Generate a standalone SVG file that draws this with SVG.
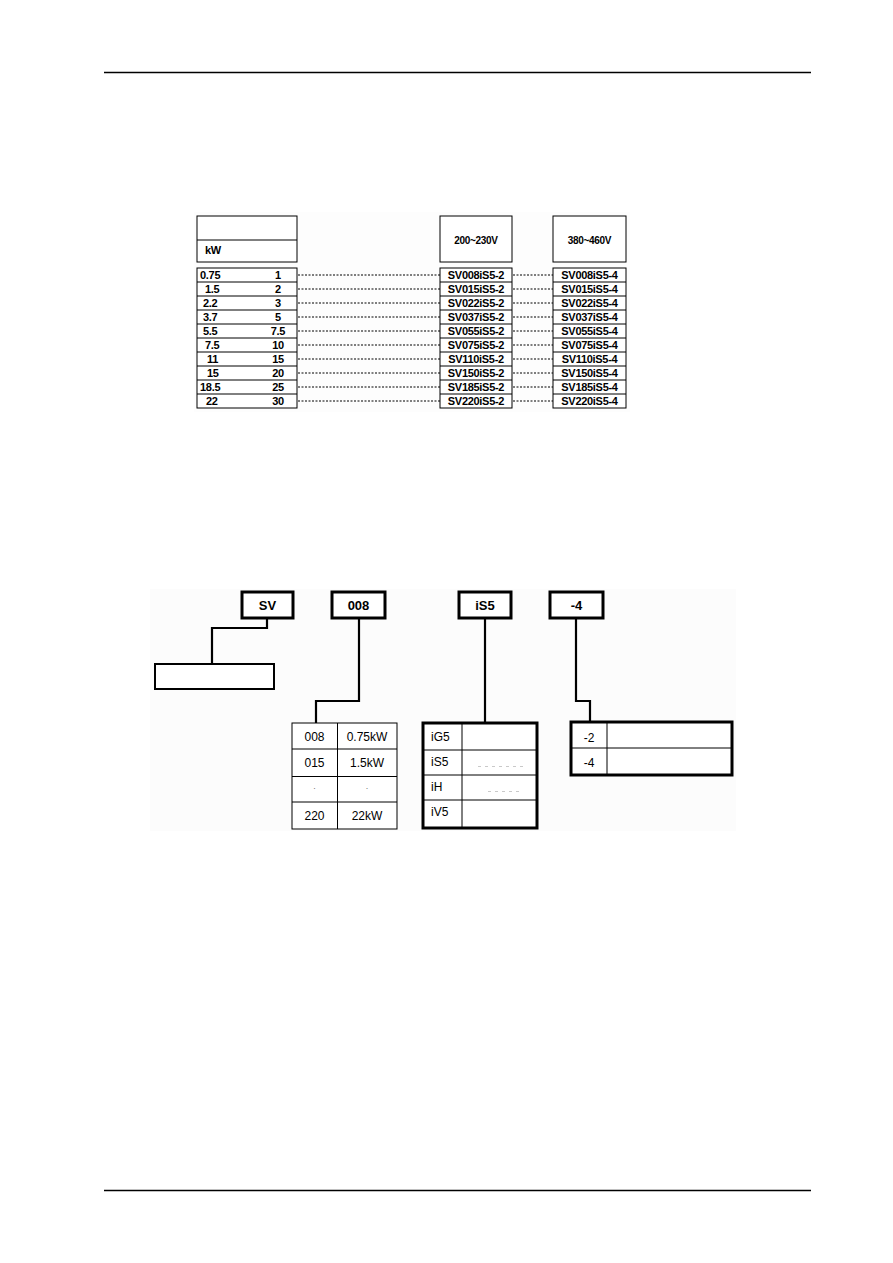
<svg xmlns="http://www.w3.org/2000/svg" width="893" height="1263" viewBox="0 0 893 1263">
<style>
.b{font-family:"Liberation Sans",Arial,sans-serif;font-weight:bold;font-size:11px;fill:#000;letter-spacing:-0.3px}
.bc{text-anchor:middle}
.r{font-family:"Liberation Sans",Arial,sans-serif;font-size:12px;fill:#000}
.lab{font-family:"Liberation Sans",Arial,sans-serif;font-weight:bold;font-size:13px;fill:#000;text-anchor:middle}
.thin{fill:#fff;stroke:#000;stroke-width:1}
.thick{fill:#fff;stroke:#000;stroke-width:3}
.dot{stroke:#000;stroke-width:1;stroke-dasharray:2,1.5;fill:none}
.con{stroke:#000;stroke-width:2.2;fill:none}
.ln{stroke:#000;stroke-width:1}
.faint{stroke:#bbb;stroke-width:0.8;stroke-dasharray:3,4;fill:none}
</style>
<rect width="893" height="1263" fill="#fff"/>
<line x1="104" y1="72.5" x2="811" y2="72.5" stroke="#000" stroke-width="1.5"/>
<line x1="104" y1="1190.5" x2="811" y2="1190.5" stroke="#000" stroke-width="1.5"/>

<g id="top-bg"><rect x="194" y="212" width="436" height="200" fill="#fdfdfd"/></g>

<g id="kw-header">
<rect class="thin" x="197" y="216" width="100" height="46"/>
<line class="ln" x1="197" y1="240" x2="297" y2="240"/>
<text class="b" x="205" y="254">kW</text>
</g>
<g id="kw-rows">
<rect class="thin" x="197" y="268" width="100" height="140"/>
<g class="ln">
<line x1="197" y1="282" x2="297" y2="282"/><line x1="197" y1="296" x2="297" y2="296"/><line x1="197" y1="310" x2="297" y2="310"/><line x1="197" y1="324" x2="297" y2="324"/><line x1="197" y1="338" x2="297" y2="338"/><line x1="197" y1="352" x2="297" y2="352"/><line x1="197" y1="366" x2="297" y2="366"/><line x1="197" y1="380" x2="297" y2="380"/><line x1="197" y1="394" x2="297" y2="394"/>
</g>
<text class="b" x="200" y="279">0.75</text><text class="b bc" x="278" y="279">1</text>
<text class="b" x="205" y="293">1.5</text><text class="b bc" x="278" y="293">2</text>
<text class="b" x="203" y="307">2.2</text><text class="b bc" x="278" y="307">3</text>
<text class="b" x="203" y="321">3.7</text><text class="b bc" x="278" y="321">5</text>
<text class="b" x="203" y="335">5.5</text><text class="b bc" x="278" y="335">7.5</text>
<text class="b" x="205" y="349">7.5</text><text class="b bc" x="278" y="349">10</text>
<text class="b" x="207" y="363">11</text><text class="b bc" x="278" y="363">15</text>
<text class="b" x="207" y="377">15</text><text class="b bc" x="278" y="377">20</text>
<text class="b" x="200" y="391">18.5</text><text class="b bc" x="278" y="391">25</text>
<text class="b" x="206" y="405">22</text><text class="b bc" x="278" y="405">30</text>
</g>

<g id="v200-header">
<rect class="thin" x="440" y="216" width="72" height="46"/>
<text class="b bc" x="476" y="244" style="font-size:10px">200~230V</text>
</g>
<g id="v200-rows">
<rect class="thin" x="440" y="268" width="72" height="140"/>
<g class="ln">
<line x1="440" y1="282" x2="512" y2="282"/><line x1="440" y1="296" x2="512" y2="296"/><line x1="440" y1="310" x2="512" y2="310"/><line x1="440" y1="324" x2="512" y2="324"/><line x1="440" y1="338" x2="512" y2="338"/><line x1="440" y1="352" x2="512" y2="352"/><line x1="440" y1="366" x2="512" y2="366"/><line x1="440" y1="380" x2="512" y2="380"/><line x1="440" y1="394" x2="512" y2="394"/>
</g>
<text class="b bc" x="476" y="279">SV008iS5-2</text>
<text class="b bc" x="476" y="293">SV015iS5-2</text>
<text class="b bc" x="476" y="307">SV022iS5-2</text>
<text class="b bc" x="476" y="321">SV037iS5-2</text>
<text class="b bc" x="476" y="335">SV055iS5-2</text>
<text class="b bc" x="476" y="349">SV075iS5-2</text>
<text class="b bc" x="476" y="363">SV110iS5-2</text>
<text class="b bc" x="476" y="377">SV150iS5-2</text>
<text class="b bc" x="476" y="391">SV185iS5-2</text>
<text class="b bc" x="476" y="405">SV220iS5-2</text>
</g>

<g id="v380-header">
<rect class="thin" x="553" y="216" width="73" height="46"/>
<text class="b bc" x="589.5" y="244" style="font-size:10px">380~460V</text>
</g>
<g id="v380-rows">
<rect class="thin" x="553" y="268" width="73" height="140"/>
<g class="ln">
<line x1="553" y1="282" x2="626" y2="282"/><line x1="553" y1="296" x2="626" y2="296"/><line x1="553" y1="310" x2="626" y2="310"/><line x1="553" y1="324" x2="626" y2="324"/><line x1="553" y1="338" x2="626" y2="338"/><line x1="553" y1="352" x2="626" y2="352"/><line x1="553" y1="366" x2="626" y2="366"/><line x1="553" y1="380" x2="626" y2="380"/><line x1="553" y1="394" x2="626" y2="394"/>
</g>
<text class="b bc" x="589.5" y="279">SV008iS5-4</text>
<text class="b bc" x="589.5" y="293">SV015iS5-4</text>
<text class="b bc" x="589.5" y="307">SV022iS5-4</text>
<text class="b bc" x="589.5" y="321">SV037iS5-4</text>
<text class="b bc" x="589.5" y="335">SV055iS5-4</text>
<text class="b bc" x="589.5" y="349">SV075iS5-4</text>
<text class="b bc" x="589.5" y="363">SV110iS5-4</text>
<text class="b bc" x="589.5" y="377">SV150iS5-4</text>
<text class="b bc" x="589.5" y="391">SV185iS5-4</text>
<text class="b bc" x="589.5" y="405">SV220iS5-4</text>
</g>

<g id="top-connectors" class="dot">
<line x1="298" y1="275" x2="440" y2="275"/><line x1="513" y1="275" x2="553" y2="275"/>
<line x1="298" y1="289" x2="440" y2="289"/><line x1="513" y1="289" x2="553" y2="289"/>
<line x1="298" y1="303" x2="440" y2="303"/><line x1="513" y1="303" x2="553" y2="303"/>
<line x1="298" y1="317" x2="440" y2="317"/><line x1="513" y1="317" x2="553" y2="317"/>
<line x1="298" y1="331" x2="440" y2="331"/><line x1="513" y1="331" x2="553" y2="331"/>
<line x1="298" y1="345" x2="440" y2="345"/><line x1="513" y1="345" x2="553" y2="345"/>
<line x1="298" y1="359" x2="440" y2="359"/><line x1="513" y1="359" x2="553" y2="359"/>
<line x1="298" y1="373" x2="440" y2="373"/><line x1="513" y1="373" x2="553" y2="373"/>
<line x1="298" y1="387" x2="440" y2="387"/><line x1="513" y1="387" x2="553" y2="387"/>
<line x1="298" y1="401" x2="440" y2="401"/><line x1="513" y1="401" x2="553" y2="401"/>
</g>

<g id="bottom-bg"><rect x="150" y="589" width="586" height="242" fill="#fcfcfc"/></g>

<g id="bottom-connectors" class="con">
<polyline points="267,619 267,628 212,628 212,664"/>
<polyline points="359,619 359,701 316,701 316,723"/>
<line x1="485" y1="619" x2="485" y2="722"/>
<polyline points="576,619 576,701 590,701 590,722"/>
</g>

<g id="sv">
<rect class="thick" x="242" y="592" width="51" height="26"/>
<text class="lab" x="267.5" y="610">SV</text>
</g>
<g id="code008">
<rect class="thick" x="332" y="592" width="53" height="26"/>
<text class="lab" x="358.5" y="610">008</text>
</g>
<g id="is5">
<rect class="thick" x="459" y="592" width="52" height="26"/>
<text class="lab" x="485" y="610">iS5</text>
</g>
<g id="code-4">
<rect class="thick" x="550" y="592" width="53" height="26"/>
<text class="lab" x="576.5" y="610">-4</text>
</g>

<g id="sv-box">
<rect x="155" y="664" width="119" height="25" fill="#fff" stroke="#000" stroke-width="2"/>
</g>

<g id="capacity-table">
<rect class="thin" x="292" y="723" width="105" height="106"/>
<line class="ln" x1="337.5" y1="723" x2="337.5" y2="829"/>
<line class="ln" x1="292" y1="749" x2="397" y2="749"/>
<line class="ln" x1="292" y1="776.5" x2="397" y2="776.5"/>
<line class="ln" x1="292" y1="802" x2="397" y2="802"/>
<text class="r" x="314.5" y="741" text-anchor="middle">008</text>
<text class="r" x="367" y="741" text-anchor="middle">0.75kW</text>
<text class="r" x="314.5" y="767" text-anchor="middle">015</text>
<text class="r" x="367" y="767" text-anchor="middle">1.5kW</text>
<text class="r" x="314.5" y="791" text-anchor="middle" style="fill:#777;font-size:9px">·</text>
<text class="r" x="367" y="791" text-anchor="middle" style="fill:#777;font-size:9px">·</text>
<text class="r" x="314.5" y="820" text-anchor="middle">220</text>
<text class="r" x="367" y="820" text-anchor="middle">22kW</text>
</g>

<g id="series-table">
<rect class="thick" x="423" y="723" width="114" height="105"/>
<line class="ln" x1="462" y1="723" x2="462" y2="828"/>
<line class="ln" x1="423" y1="750" x2="537" y2="750"/>
<line class="ln" x1="423" y1="775" x2="537" y2="775"/>
<line class="ln" x1="423" y1="800" x2="537" y2="800"/>
<text class="r" x="431" y="741">iG5</text>
<text class="r" x="431" y="766">iS5</text>
<text class="r" x="431" y="791">iH</text>
<text class="r" x="431" y="816">iV5</text>
<line class="faint" x1="478" y1="766.5" x2="524" y2="766.5"/>
<line class="faint" x1="488" y1="791.5" x2="520" y2="791.5"/>
</g>

<g id="voltage-table">
<rect class="thick" x="571" y="722" width="161" height="53"/>
<line class="ln" x1="607" y1="722" x2="607" y2="775"/>
<line class="ln" x1="571" y1="748" x2="732" y2="748"/>
<text class="r" x="589" y="742" text-anchor="middle">-2</text>
<text class="r" x="589" y="767" text-anchor="middle">-4</text>
</g>
</svg>
